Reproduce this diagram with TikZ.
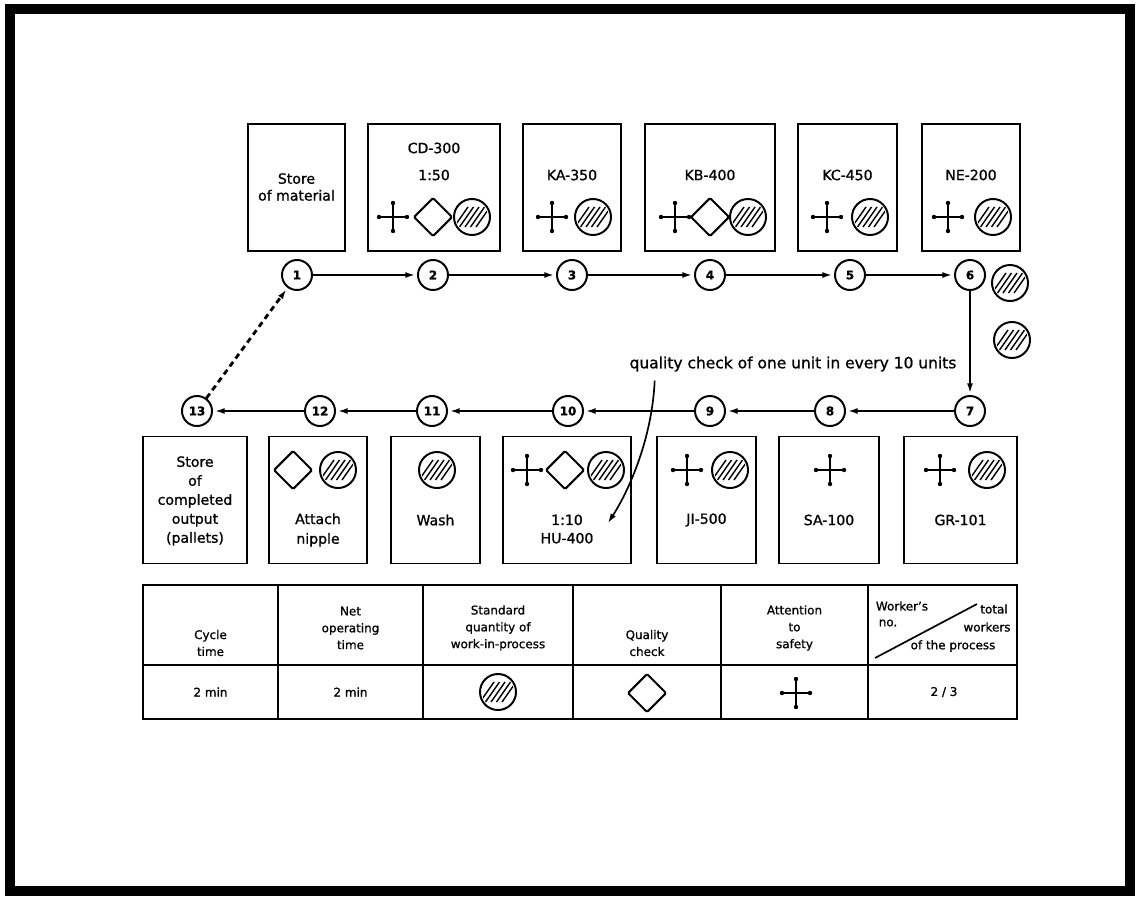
\documentclass[tikz,border=0pt]{standalone}
\usepackage{fontspec}
\setmainfont{DejaVu Sans}[FakeBold=1]
\usepackage{tikz}
\usetikzlibrary{arrows.meta}
\newcommand\pxu{0.025cm}

\begin{document}
\begin{tikzpicture}[
  x=0.025cm, y=-0.025cm,
  font=\fontsize{10}{12}\selectfont,
  box/.style={draw, line width=1.4pt, minimum height=127*\pxu, inner sep=0pt},
  num/.style={draw, circle, line width=1.4pt, minimum size=30*\pxu, inner sep=0pt,
              font=\fontsize{8.5}{10}\selectfont\bfseries},
  arr/.style={-{Latex[length=2.4mm,width=1.5mm]}, line width=1.2pt, shorten >=1.5pt},
  back/.style={arr, dash pattern=on 4pt off 3pt, line width=2pt},
  sym/.style={line width=1.4pt},
  hatch/.style={line width=1pt},
  tline/.style={line width=1.4pt},
  hdr/.style={font=\fontsize{8.5}{12}\selectfont, align=center},
  cell/.style={font=\fontsize{8.5}{12}\selectfont},
  wip/.pic={
    \draw[sym] (0,0) circle [radius=0.45cm];
    \begin{scope}
      \clip (0,0) circle [radius=0.4cm];
      \foreach \k in {-11,-5.5,0,5.5,11}
        \draw[hatch] (\k-7,10) -- (\k+7,-10);
    \end{scope}
  },
  safety/.pic={
    \draw[sym, line width=2pt] (-14,0) -- (14,0) (0,-14) -- (0,14);
    \foreach \a/\b in {-14/0,14/0,0/-14,0/14}
      \fill (\a,\b) circle [radius=0.055cm];
  },
  qcheck/.pic={
    \draw[sym, line width=1.5pt, rounded corners=1pt]
      (0,-19) -- (19,0) -- (0,19) -- (-19,0) -- cycle;
  },
]
  \useasboundingbox (0,0) rectangle (1136,896);
  \draw[line width=0.26cm] (10,9) rectangle (1130,891);

  % Upper row of processes
  \node[box, minimum width=97*\pxu]  (mat)  at (296.5,187.5) {};
  \node[box, minimum width=132*\pxu] (cd)   at (434,187.5) {};
  \node[box, minimum width=98*\pxu]  (ka)   at (572,187.5) {};
  \node[box, minimum width=130*\pxu] (kb)   at (710,187.5) {};
  \node[box, minimum width=99*\pxu]  (kc)   at (847.5,187.5) {};
  \node[box, minimum width=98*\pxu]  (ne)   at (971,187.5) {};

  \node[align=center] (matlbl) at (296.5,187) {Store\\of material};
  \node (cdlbl) at (434,148) {CD-300};
  \node (cdrate) at (434,175) {1:50};
  \node (kalbl) at (572,175) {KA-350};
  \node (kblbl) at (710,175) {KB-400};
  \node (kclbl) at (847.5,175) {KC-450};
  \node (nelbl) at (971,175) {NE-200};

  \pic at (393,217) {safety};  \pic at (433,217) {qcheck};  \pic at (472,217) {wip};
  \pic at (552,217) {safety};  \pic at (593,217) {wip};
  \pic at (675,217) {safety};  \pic at (710,217) {qcheck};  \pic at (748,217) {wip};
  \pic at (827,217) {safety};  \pic at (870,217) {wip};
  \pic at (948,217) {safety};  \pic at (993,217) {wip};

  % Lower row of processes
  \node[box, minimum width=104*\pxu] (done) at (195,500) {};
  \node[box, minimum width=98*\pxu]  (nip)  at (318,500) {};
  \node[box, minimum width=89*\pxu]  (wash) at (435.5,500) {};
  \node[box, minimum width=128*\pxu] (hu)   at (567,500) {};
  \node[box, minimum width=99*\pxu]  (ji)   at (706.5,500) {};
  \node[box, minimum width=100*\pxu] (sa)   at (829,500) {};
  \node[box, minimum width=113*\pxu] (gr)   at (960.5,500) {};

  \node[align=center, font=\fontsize{10}{13.5}\selectfont] (donelbl) at (195,501)
    {Store\\of\\completed\\output\\(pallets)};
  \node[align=center, font=\fontsize{10}{14}\selectfont] (niplbl) at (318,530) {Attach\\nipple};
  \node (washlbl) at (435.5,520) {Wash};
  \node[align=center, font=\fontsize{10}{13}\selectfont] (hulbl) at (567,529) {1:10\\HU-400};
  \node (jilbl) at (706.5,520) {JI-500};
  \node (salbl) at (829,520) {SA-100};
  \node (grlbl) at (960.5,520) {GR-101};

  \pic at (293,470) {qcheck};  \pic at (338,470) {wip};
  \pic at (437,470) {wip};
  \pic at (527,470) {safety};  \pic at (565,470) {qcheck};  \pic at (606,470) {wip};
  \pic at (687,470) {safety};  \pic at (730,470) {wip};
  \pic at (830,470) {safety};
  \pic at (940,470) {safety};  \pic at (987,470) {wip};

  % Flow numbers
  \node[num] (n1) at (297,275) {1};
  \node[num] (n2) at (433,275) {2};
  \node[num] (n3) at (572,275) {3};
  \node[num] (n4) at (710,275) {4};
  \node[num] (n5) at (850,275) {5};
  \node[num] (n6) at (970,275) {6};
  \node[num] (n7) at (970,411) {7};
  \node[num] (n8) at (830,411) {8};
  \node[num] (n9) at (710,411) {9};
  \node[num] (n10) at (568,411) {10};
  \node[num] (n11) at (432,411) {11};
  \node[num] (n12) at (320,411) {12};
  \node[num] (n13) at (197,411) {13};

  \draw[arr] (n1) -- (n2);
  \draw[arr] (n2) -- (n3);
  \draw[arr] (n3) -- (n4);
  \draw[arr] (n4) -- (n5);
  \draw[arr] (n5) -- (n6);
  \draw[arr] (n6) -- (n7);
  \draw[arr] (n7) -- (n8);
  \draw[arr] (n8) -- (n9);
  \draw[arr] (n9) -- (n10);
  \draw[arr] (n10) -- (n11);
  \draw[arr] (n11) -- (n12);
  \draw[arr] (n12) -- (n13);
  \draw[back] (n13) -- (n1);

  % Stock held beside station 6
  \pic at (1010,283) {wip};
  \pic at (1012,340) {wip};

  % Sampling note
  \node[font=\fontsize{11}{13}\selectfont] (qnote) at (793,364)
    {quality check of one unit in every 10 units};
  \coordinate (qtip) at (608,523);
  \draw[arr, shorten >=0pt] ([xshift=30*\pxu, yshift=-3pt]qnote.south west)
    .. controls (652,440) and (628,492) .. (qtip);

  % Standard work table
  \draw[tline] (143,585) rectangle (1017,719);
  \draw[tline] (143,665) -- (1017,665);
  \foreach \cx in {278,423,573,721,868}
    \draw[tline] (\cx,585) -- (\cx,719);

  \node[hdr] (hcyc) at (210.5,643) {Cycle\\time};
  \node[hdr] (hnet) at (350.5,628) {Net\\operating\\time};
  \node[hdr] (hwip) at (498,628) {Standard\\quantity of\\work-in-process};
  \node[hdr] (hqc)  at (647,643) {Quality\\check};
  \node[hdr] (hsaf) at (794.5,628) {Attention\\to\\safety};
  \draw[tline, line width=1.2pt] (875,658) -- (977,604);
  \node[cell] (hwno)  at (902,606) {Worker's};
  \node[cell] (htot)  at (994,609) {total};
  \node[cell] (hno)   at (888,623) {no.};
  \node[cell] (hwks)  at (987,627) {workers};
  \node[cell] (hproc) at (953,646) {of the process};

  \node[cell] (vcyc) at (210.5,692) {2 min};
  \node[cell] (vnet) at (350.5,692) {2 min};
  \pic at (498,692) {wip};
  \pic at (647,693) {qcheck};
  \pic at (796,693) {safety};
  \node[cell] (vwk) at (944,692) {2 / 3};
\end{tikzpicture}
\end{document}
